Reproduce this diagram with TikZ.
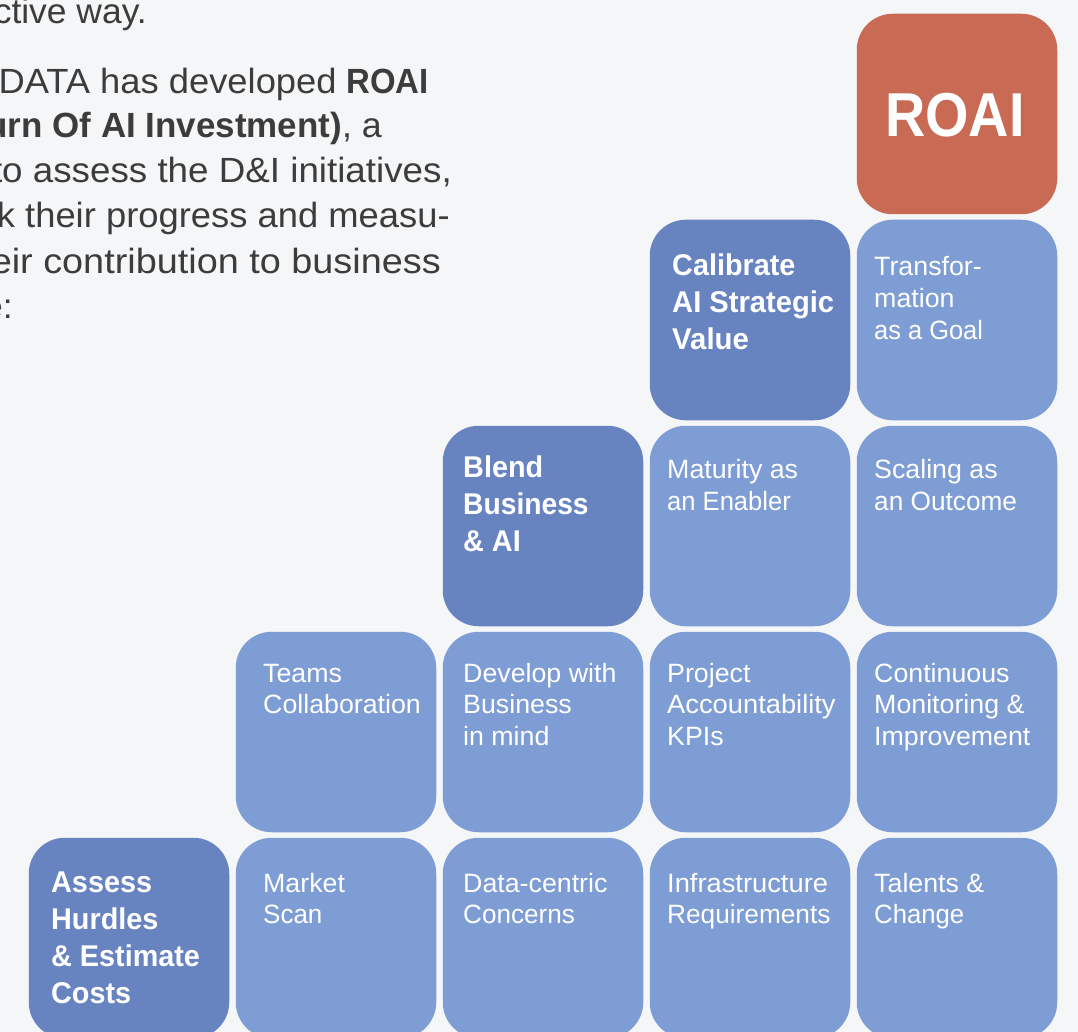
\documentclass[tikz,border=0pt]{standalone}
\usepackage{fontspec}
\setmainfont{Liberation Sans}
\newfontfamily\lightfam{Liberation Sans}[FakeStretch=1.01]
\newfontfamily\darkfam{Liberation Sans}[BoldFeatures={FakeStretch=0.96}]
\newfontfamily\roaifam{Liberation Sans}[BoldFeatures={FakeStretch=0.9}]
\newfontfamily\bodyfam{Liberation Sans}[FakeStretch=1.013,BoldFeatures={FakeStretch=0.99}]
\definecolor{pagebg}{HTML}{F5F6F7}
\definecolor{darkblue}{HTML}{6784C1}
\definecolor{lightblue}{HTML}{7E9DD4}
\definecolor{roaired}{HTML}{C96A55}
\definecolor{bodytxt}{HTML}{3C3C3C}
\newcommand{\stacked}[1]{\begin{tabular}[t]{@{}l@{}}#1\end{tabular}}
\newcommand{\sx}[2]{\scalebox{#1}[1]{#2}}
\tikzset{
  x=1pt,y=-1pt,
  tile/.style={draw=none,rounded corners=36pt,minimum width=200.5pt,minimum height=200.5pt,inner sep=0pt},
  lighttile/.style={tile,fill=lightblue},
  darktile/.style={tile,fill=darkblue},
  redtile/.style={tile,fill=roaired},
  lighttext/.style={anchor=base west,inner sep=0pt,text=white,font=\lightfam\fontsize{26.5}{31.7}\selectfont},
  darktext/.style={anchor=base west,inner sep=0pt,text=white,font=\darkfam\fontsize{30}{37}\selectfont\bfseries},
  bodytext/.style={anchor=base east,inner sep=0pt,text=bodytxt,font=\bodyfam\fontsize{35}{45}\selectfont},
}
\begin{document}
\begin{tikzpicture}
\useasboundingbox (0,0) rectangle (1078,1032);
\clip (0,0) rectangle (1078,1032);
\fill[pagebg] (0,0) rectangle (1078,1032);
% tiles
\node[redtile] (roai) at (957,114) {};
\node[darktile] (calibrate) at (750,320) {};
\node[lighttile] (transform) at (957,320) {};
\node[darktile] (blend) at (543,526) {};
\node[lighttile] (maturity) at (750,526) {};
\node[lighttile] (scaling) at (957,526) {};
\node[lighttile] (teams) at (336,732) {};
\node[lighttile] (develop) at (543,732) {};
\node[lighttile] (project) at (750,732) {};
\node[lighttile] (monitor) at (957,732) {};
\node[darktile] (assess) at (129,938) {};
\node[lighttile] (market) at (336,938) {};
\node[lighttile] (datac) at (543,938) {};
\node[lighttile] (infra) at (750,938) {};
\node[lighttile] (talents) at (957,938) {};
% tile texts
\node[text=white,inner sep=0pt,font=\roaifam\fontsize{62}{62}\selectfont\bfseries] (troai) at (955,115) {ROAI};
\node[darktext] (tcal) at (672,275.5) {\stacked{Calibrate\\\sx{1.012}{AI Strategic}\\\sx{1.02}{Value}}};
\node[lighttext] (ttra) at (874,276) {\stacked{Transfor-\\mation\\\sx{0.95}{as a Goal}}};
\node[darktext] (tble) at (463,477.5) {\stacked{Blend\\\sx{0.98}{Business}\\\& AI}};
\node[lighttext] (tmat) at (667,478.5) {\stacked{Maturity as\\\sx{0.955}{an Enabler}}};
\node[lighttext] (tsca) at (874,478.5) {\stacked{Scaling as\\\sx{0.98}{an Outcome}}};
\node[lighttext] (ttea) at (263,682) {\stacked{Teams\\Collaboration}};
\node[lighttext] (tdev) at (463,682) {\stacked{Develop with\\Business\\in mind}};
\node[lighttext] (tpro) at (667,682) {\stacked{Project\\\sx{1.02}{Accountability}\\KPIs}};
\node[lighttext] (tmon) at (874,682) {\stacked{Continuous\\Monitoring \&\\Improvement}};
\node[darktext] (tass) at (51,892) {\stacked{Assess\\Hurdles\\\& Estimate\\Costs}};
\node[lighttext] (tmar) at (263,892) {\stacked{Market\\\sx{0.97}{Scan}}};
\node[lighttext] (tdat) at (463,892) {\stacked{Data-centric\\\sx{0.975}{Concerns}}};
\node[lighttext] (tinf) at (667,892) {\stacked{\sx{1.02}{Infrastructure}\\\sx{0.98}{Requirements}}};
\node[lighttext] (ttal) at (874,892) {\stacked{Talents \&\\\sx{0.96}{Change}}};
% body text, cut by the left edge
\node[bodytext] (b1) at (147,24) {ctive way.};
\node[bodytext] (b2) at (429,94) {\sx{1.025}{DATA has developed} \sx{0.95}{\textbf{ROAI}}};
\node[bodytext] (b3) at (382,138) {\sx{1.009}{\textbf{urn Of AI Investment)}, a}};
\node[bodytext] (b4) at (452,183) {\sx{1.037}{to assess the D\&I initiatives,}};
\node[bodytext] (b5) at (450,228) {\sx{1.026}{k their progress and measu-}};
\node[bodytext] (b6) at (441,273) {\sx{1.067}{eir contribution to business}};
\node[bodytext] (b7) at (13,318) {e:};
\end{tikzpicture}
\end{document}
